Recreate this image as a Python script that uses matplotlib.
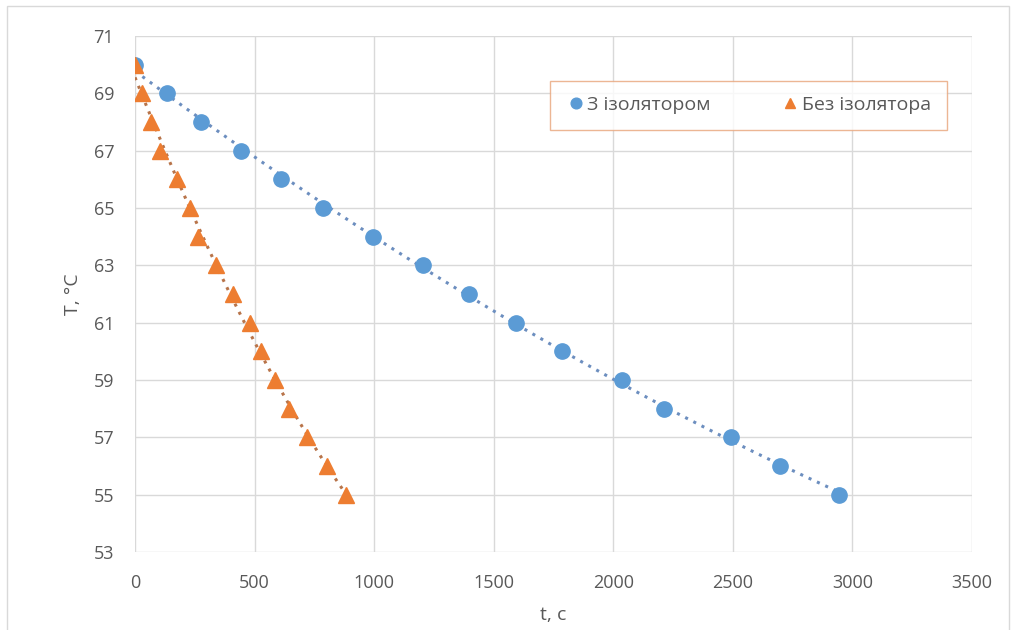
import numpy as np
import matplotlib.pyplot as plt
from matplotlib.patches import Rectangle

plt.rcParams['font.family'] = ['Open Sans', 'DejaVu Sans']

# з ізолятором
t_iso = [0, 134, 276, 443, 611, 786, 995, 1205, 1397, 1593, 1786, 2037, 2212, 2493, 2698, 2944]
T_iso = [70, 69, 68, 67, 66, 65, 64, 63, 62, 61, 60, 59, 58, 57, 56, 55]

# без ізолятора
t_no = [0, 29, 67, 105, 176, 230, 264, 339, 410, 481, 527, 586, 644, 719, 803, 882]
T_no = [70, 69, 68, 67, 66, 65, 64, 63, 62, 61, 60, 59, 58, 57, 56, 55]

blue = '#5B9BD5'
orange = '#ED7D31'
grey = '#595959'

fig = plt.figure(figsize=(10.16, 6.3), dpi=100)
ax = fig.add_axes([0.1329, 0.1238, 0.8238, 0.8191])

# рамка діаграми
fig.patches.append(Rectangle((7/1016, -0.01), 1 - 14/1016, 1.0, transform=fig.transFigure,
                             fill=False, edgecolor='#D9D9D9', linewidth=1))

# лінії тренду (поліном 2-го ступеня)
for t, T, c in [(t_iso, T_iso, '#6C8EBF'), (t_no, T_no, '#B8744A')]:
    p = np.polyfit(t, T, 2)
    tt = np.linspace(min(t), max(t), 200)
    ax.plot(tt, np.polyval(p, tt), ls=(0, (1, 2)), color=c, lw=2.2, zorder=2)

ax.plot(t_iso, T_iso, 'o', color=blue, ms=11, mec=blue, label='З ізолятором', zorder=3)
ax.plot(t_no, T_no, '^', color=orange, ms=11, mec=orange, label='Без ізолятора', zorder=4)

ax.set_xlim(0, 3500)
ax.set_ylim(53, 71)
ax.set_xticks(np.arange(0, 3501, 500))
ax.set_yticks(np.arange(53, 72, 2))
ax.grid(color='#D9D9D9', linewidth=1)
ax.set_axisbelow(True)
for s in ax.spines.values():
    s.set_visible(False)
ax.tick_params(length=0, labelsize=13, labelcolor=grey)
ax.tick_params(axis='x', pad=16)
ax.tick_params(axis='y', pad=15)

ax.set_xlabel('t, c', fontsize=14, color=grey, labelpad=10)
ax.set_ylabel('T, °C', fontsize=14, color=grey, labelpad=8)

leg = ax.legend(loc='center', bbox_to_anchor=(0.733, 0.866), ncol=2, fontsize=14,
                frameon=True, fancybox=False, borderpad=0.8, columnspacing=3.6,
                handletextpad=0.1, handlelength=1.0, markerscale=0.7, labelcolor=grey,
                borderaxespad=0)
leg.get_frame().set_edgecolor('#E8A47A')
leg.get_frame().set_linewidth(1)

plt.savefig('out.png')
